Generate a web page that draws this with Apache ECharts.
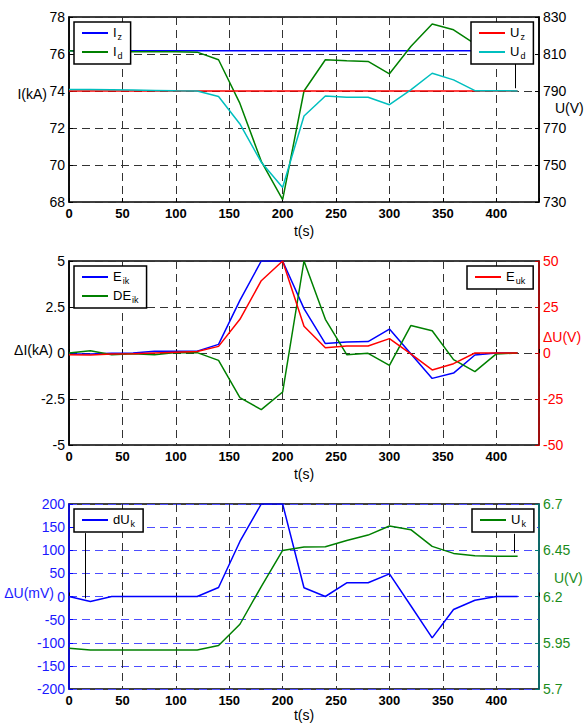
<!DOCTYPE html>
<html>
<head>
<meta charset="utf-8">
<script src="https://cdn.jsdelivr.net/npm/echarts@6/dist/echarts.min.js"></script>
<style>
  html, body { margin: 0; padding: 0; background: #fff; }
  #main { width: 585px; height: 724px; }
</style>
</head>
<body>
<div id="main"></div>
<script>
// time axis (s)
var t = [0, 20, 40, 60, 80, 100, 120, 140, 160, 180, 200, 220, 240, 260, 280, 300, 320, 340, 360, 380, 400, 420];

// top panel: currents (kA) and voltages (V)
var Iz = [76.17, 76.17, 76.17, 76.17, 76.17, 76.17, 76.17, 76.17, 76.17, 76.17, 76.17, 76.17, 76.17, 76.17, 76.17, 76.17, 76.17, 76.17, 76.17, 76.17, 76.17, 76.17];
var Id = [76.17, 76.12, 76.12, 76.12, 76.12, 76.12, 76.1, 75.69, 73.33, 70.2, 68.13, 74.0, 75.69, 75.63, 75.6, 74.93, 76.41, 77.62, 77.31, 76.55, 76.2, 76.2];
var Uz = [790, 790, 790, 790, 790, 790, 790, 790, 790, 790, 790, 790, 790, 790, 790, 790, 790, 790, 790, 790, 790, 790];
var Ud = [790.8, 790.8, 790.7, 790.5, 790.3, 790.1, 790.0, 787.0, 772.2, 751.5, 737.8, 776.5, 787.3, 786.6, 786.6, 782.6, 790.6, 799.6, 796.0, 790.2, 790.2, 790.0];

// middle panel: errors
var Eik = [-0.05, -0.05, -0.02, 0, 0.09, 0.09, 0.1, 0.47, 2.86, 5, 5, 2.41, 0.51, 0.6, 0.62, 1.3, -0.04, -1.38, -1.09, -0.11, 0, 0];
var DEik = [0, 0.12, -0.1, -0.04, -0.1, 0.03, 0.02, -0.4, -2.43, -3.08, -2.12, 5, 1.83, -0.09, -0.02, -0.67, 1.49, 1.21, -0.36, -1.01, -0.05, 0];
var Euk = [-1, -1.1, -0.6, -0.4, 0, 0.4, 0.8, 3.6, 18.3, 39.3, 50, 14.5, 2.9, 3.8, 3.8, 7.8, -0.5, -9.2, -5.8, 0, 0, 0];

// bottom panel
var dUk = [0, -10.8, 0, 0, 0, 0, 0, 19.5, 119, 200, 200, 19, 0, 29.6, 29.6, 49, -20, -89.5, -28, -8, 0, 0];
var Uk = [5.92, 5.911, 5.911, 5.911, 5.911, 5.911, 5.911, 5.935, 6.05, 6.254, 6.449, 6.467, 6.469, 6.503, 6.532, 6.581, 6.561, 6.471, 6.433, 6.42, 6.418, 6.418];

// tick labels
var xTicks = [0, 50, 100, 150, 200, 250, 300, 350, 400];

function pairs(ys) {
    return t.map(function (x, i) { return [x, ys[i]]; });
}

var FONT = 'Liberation Sans';
var subs = {
    Iz: '{m|I}{s|z}', Id: '{m|I}{s|d}', Uz: '{m|U}{s|z}', Ud: '{m|U}{s|d}',
    Eik: '{m|E}{s|ik}', DEik: '{m|DE}{s|ik}', Euk: '{m|E}{s|uk}',
    dUk: '{m|dU}{s|k}', Uk: '{m|U}{s|k}'
};
var rich = {
    m: { fontFamily: FONT, fontSize: 13, color: '#000', lineHeight: 14, verticalAlign: 'top' },
    s: { fontFamily: FONT, fontSize: 9, color: '#000', lineHeight: 10, verticalAlign: 'top', padding: [6, 0, 0, 1] }
};

function legend(names, left, top) {
    return {
        data: names, left: left, top: top, orient: 'vertical',
        icon: 'rect', itemWidth: 26, itemHeight: 2, itemGap: 4,
        padding: [4, 8, 4, 8],
        backgroundColor: '#fff', borderColor: '#000', borderWidth: 1.5, borderRadius: 0,
        formatter: function (n) { return subs[n]; },
        textStyle: { rich: rich }
    };
}

var dash = { type: [8, 5], color: '#333', width: 1 };

function xAxis(idx, gap) {
    return {
        gridIndex: idx, type: 'value', min: 0, max: 440, interval: 50,
        name: 't(s)', nameLocation: 'middle', nameGap: gap,
        nameTextStyle: { fontFamily: FONT, fontSize: 14, color: '#000' },
        axisLine: { show: false },
        axisTick: { inside: true, length: 4, lineStyle: { color: '#000' } },
        axisLabel: {
            margin: 5, fontFamily: FONT, fontSize: 13, fontWeight: 'bold', color: '#000',
            formatter: function (v) { return xTicks.indexOf(v) >= 0 ? String(v) : ''; }
        },
        splitLine: { show: true, lineStyle: dash }
    };
}

function yAxis(o) {
    return {
        gridIndex: o.grid, type: 'value', position: o.pos, min: o.min, max: o.max, interval: o.interval,
        axisLine: { show: true, onZero: false, lineStyle: { color: o.line, width: 1.5 } },
        axisTick: { show: true, inside: true, length: 4, lineStyle: { color: o.line } },
        axisLabel: { margin: 4, fontFamily: FONT, fontSize: 14, color: o.color },
        splitLine: { show: !!o.split, lineStyle: o.split || dash }
    };
}

// y-axis titles sit horizontally beside the axes
function title(text, x, y, align, color) {
    return {
        type: 'text', x: x, y: y, silent: true,
        style: { text: text, fill: color, font: '14px "Liberation Sans"', align: align, verticalAlign: 'middle' }
    };
}

function arrow(x, y0, y1) {
    return {
        silent: true, animation: false,
        symbol: ['none', 'arrow'], symbolSize: [0, 7],
        label: { show: false },
        lineStyle: { color: '#000', width: 1, type: 'solid' },
        data: [[{ coord: [x, y0] }, { coord: [x, y1] }]]
    };
}

function line(name, xi, yi, ys, color, extra) {
    var s = {
        name: name, type: 'line', xAxisIndex: xi, yAxisIndex: yi,
        data: pairs(ys), symbol: 'none', showSymbol: false,
        lineStyle: { color: color, width: 1.5 }, itemStyle: { color: color },
        clip: true
    };
    if (extra) s.markLine = extra;
    return s;
}

function grid(top, height) {
    return {
        left: 69, width: 470, top: top, height: height,
        containLabel: false, outerBoundsMode: 'none',
        show: true, borderColor: '#000', borderWidth: 1.5, backgroundColor: '#fff'
    };
}

var chart = echarts.init(document.getElementById('main'), null, { renderer: 'svg' });

var option = {
    animation: false,
    backgroundColor: '#fff',
    grid: [grid(17, 185), grid(261, 184), grid(504, 185)],
    xAxis: [xAxis(0, 22), xAxis(1, 22), xAxis(2, 18)],
    yAxis: [
        yAxis({ grid: 0, pos: 'left', min: 68, max: 78, interval: 2, color: '#000', line: '#000', split: dash }),
        yAxis({ grid: 0, pos: 'right', min: 730, max: 830, interval: 20, color: '#000', line: '#000' }),
        yAxis({ grid: 1, pos: 'left', min: -5, max: 5, interval: 2.5, color: '#000', line: '#000', split: dash }),
        yAxis({ grid: 1, pos: 'right', min: -50, max: 50, interval: 25, color: '#ff0000', line: '#c00000' }),
        yAxis({ grid: 2, pos: 'left', min: -200, max: 200, interval: 50, color: '#1a1aff', line: '#0000ff',
            split: { type: [8, 5], color: '#4d4dff', width: 1 } }),
        yAxis({ grid: 2, pos: 'right', min: 5.7, max: 6.7, interval: 0.25, color: '#1a8c1a', line: '#007878' })
    ],
    graphic: [
        title('I(kA)', 47, 94, 'right', '#000'),
        title('U(V)', 555, 108, 'left', '#000'),
        title('\u0394I(kA)', 53, 350, 'right', '#000'),
        title('\u0394U(V)', 543, 337, 'left', '#ff0000'),
        title('\u0394U(mV)', 54, 593, 'right', '#1a1aff'),
        title('U(V)', 554, 578, 'left', '#1a8c1a')
    ],
    legend: [
        legend(['Iz', 'Id'], 74, 22),
        legend(['Uz', 'Ud'], 471, 22),
        legend(['Eik', 'DEik'], 74, 266),
        legend(['Euk'], 467, 266),
        legend(['dUk'], 74, 509),
        legend(['Uk'], 472, 509)
    ],
    series: [
        line('Iz', 0, 0, Iz, '#0000ff'),
        line('Id', 0, 0, Id, '#008000'),
        line('Uz', 0, 1, Uz, '#ff0000'),
        line('Ud', 0, 1, Ud, '#00bfbf', arrow(418, 804.6, 791.5)),
        line('Eik', 1, 2, Eik, '#0000ff'),
        line('DEik', 1, 2, DEik, '#008000'),
        line('Euk', 1, 3, Euk, '#ff0000'),
        line('dUk', 2, 4, dUk, '#0000ff', arrow(15, 137, -4)),
        line('Uk', 2, 5, Uk, '#008000', arrow(417, 6.539, 6.436))
    ]
};

chart.setOption(option);
</script>
</body>
</html>
